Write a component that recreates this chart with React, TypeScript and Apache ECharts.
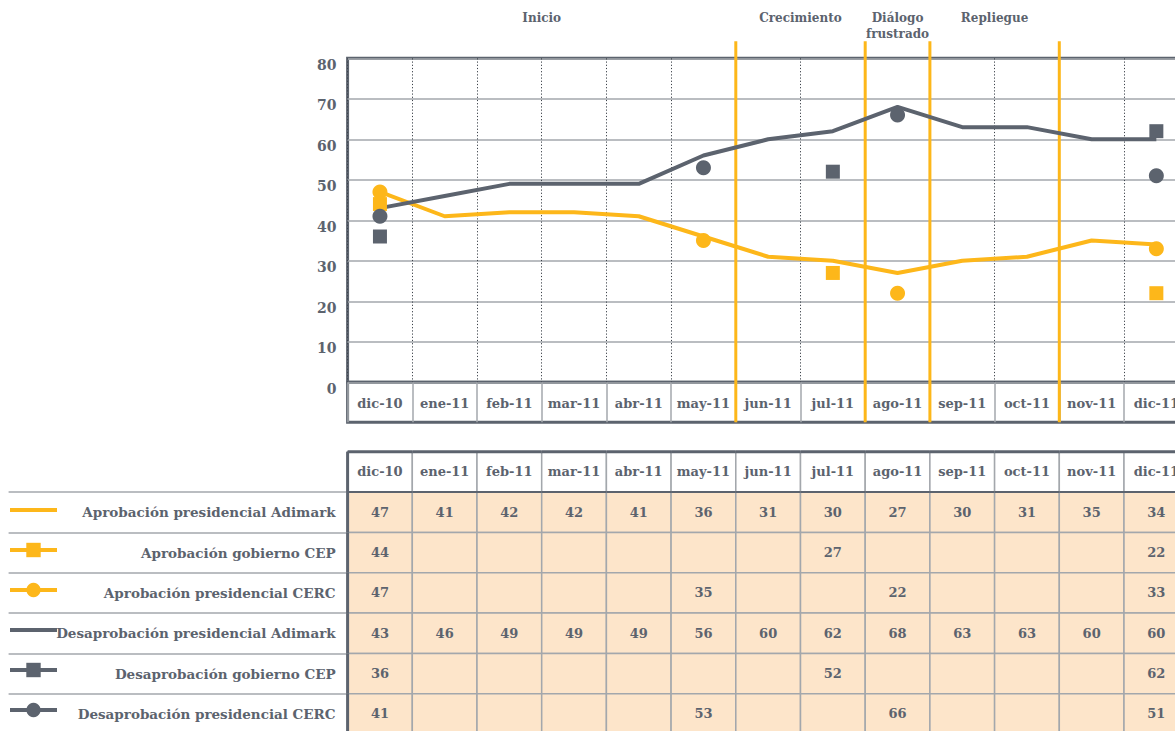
import React, { useEffect, useRef } from "react";
import * as echarts from "echarts";

const categories = ["dic-10", "ene-11", "feb-11", "mar-11", "abr-11", "may-11", "jun-11", "jul-11", "ago-11", "sep-11", "oct-11", "nov-11", "dic-11"];

const seriesNames = [
  "Aprobación presidencial Adimark",
  "Aprobación gobierno CEP",
  "Aprobación presidencial CERC",
  "Desaprobación presidencial Adimark",
  "Desaprobación gobierno CEP",
  "Desaprobación presidencial CERC",
];

const aprobAdimark = [47, 41, 42, 42, 41, 36, 31, 30, 27, 30, 31, 35, 34];
const aprobCEP = [44, null, null, null, null, null, null, 27, null, null, null, null, 22];
const aprobCERC = [47, null, null, null, null, 35, null, null, 22, null, null, null, 33];
const desAdimark = [43, 46, 49, 49, 49, 56, 60, 62, 68, 63, 63, 60, 60];
const desCEP = [36, null, null, null, null, null, null, 52, null, null, null, null, 62];
const desCERC = [41, null, null, null, null, 53, null, null, 66, null, null, null, 51];

const phaseNames = ["Inicio", "Crecimiento", "Diálogo\nfrustrado", "Repliegue", ""];
const phaseStart = [0, 6, 8, 9, 11];
const phaseEnd = [5, 7, 8, 10, 12];

const yMin = 0;
const yMax = 80;
const yInterval = 10;

const ORANGE = "#FDB71A";
const GRAY = "#5C636E";
const LIGHT = "#A3A7AC";
const PEACH = "#FDE5CA";
const FONT = '"DejaVu Serif", serif';

export default function App() {
  const ref = useRef<HTMLDivElement>(null);
  useEffect(() => {
    if (!ref.current) return;
    const chart = echarts.init(ref.current, undefined, { renderer: "svg" });
    const tableRows = [aprobAdimark, aprobCEP, aprobCERC, desAdimark, desCEP, desCERC];
    const colors = [ORANGE, ORANGE, ORANGE, GRAY, GRAY, GRAY];
    const symbols = ["none", "rect", "circle", "none", "rect", "circle"];
    const dataSeries = [aprobAdimark, aprobCEP, aprobCERC, desAdimark, desCEP, desCERC];

    const gridLeft = 347.6;
    const gridW = 64.7 * categories.length;

    const tableData: number[][] = [];
    for (let r = 0; r <= seriesNames.length; r++) {
      for (let c = 0; c < categories.length; c++) tableData.push([c, r]);
    }

    const option: any = {
      animation: false,
      backgroundColor: "#fff",
      textStyle: { fontFamily: FONT },
      grid: [
        { left: gridLeft, top: 58.3, width: gridW, height: 324, show: true, borderColor: GRAY, borderWidth: 3 },
        { left: gridLeft, top: 382.3, width: gridW, height: 40, show: true, borderColor: GRAY, borderWidth: 3 },
        { left: gridLeft, top: 451.7, width: gridW, height: 40.35 * 7 },
      ],
      xAxis: [
        {
          type: "category", gridIndex: 0, data: categories, boundaryGap: true,
          axisLine: { show: false }, axisTick: { show: false }, axisLabel: { show: false },
          splitLine: { show: true, interval: 0, lineStyle: { color: "#3d434b", type: [1.2, 2], width: 1 } },
        },
        {
          type: "category", gridIndex: 1, data: categories, boundaryGap: true, position: "bottom",
          axisLine: { show: false }, axisTick: { show: false },
          axisLabel: { interval: 0, inside: true, margin: 12, color: GRAY, fontWeight: "bold", fontSize: 13, fontFamily: FONT },
          splitLine: { show: true, interval: 0, lineStyle: { color: LIGHT, width: 1.5 } },
        },
        {
          type: "category", gridIndex: 2, data: categories, boundaryGap: true,
          axisLine: { show: false }, axisTick: { show: false }, axisLabel: { show: false }, splitLine: { show: false },
        },
      ],
      yAxis: [
        {
          type: "value", gridIndex: 0, min: yMin, max: yMax, interval: yInterval,
          axisLine: { show: false }, axisTick: { show: false },
          axisLabel: { margin: 11, color: GRAY, fontWeight: "bold", fontSize: 14, fontFamily: FONT, verticalAlign: "top", lineHeight: 13 },
          splitLine: { show: true, lineStyle: { color: LIGHT, width: 1.5 } },
        },
        { type: "value", gridIndex: 1, show: false, min: 0, max: 1 },
        {
          type: "category", gridIndex: 2, inverse: true, data: ["", ...seriesNames], boundaryGap: true,
          axisLine: { show: false },
          axisTick: { show: true, length: 339, lineStyle: { color: LIGHT, width: 1.5 }, interval: (i: number) => i !== 0 },
          axisLabel: { interval: 0, margin: 12, color: GRAY, fontWeight: "bold", fontSize: 13.5, fontFamily: FONT },
          splitLine: { show: false },
        },
      ],
      legend: {
        orient: "vertical", left: 8, top: 501, padding: 0, itemWidth: 47, itemHeight: 18, itemGap: 23.8,
        lineStyle: { width: 4 },
        data: seriesNames.map((n, i) => (symbols[i] === "none" ? { name: n, itemStyle: { opacity: 0 } } : { name: n })),
        formatter: () => "", selectedMode: false,
      },
      series: [
        {
          type: "custom", name: "fases", xAxisIndex: 0, yAxisIndex: 0, z: 1,
          data: phaseNames.map((_, i) => [phaseStart[i], phaseEnd[i]]),
          renderItem: (params: any, api: any) => {
            const s = api.value(0);
            const e = api.value(1);
            const bw = api.size([1, 0])[0];
            const x0 = api.coord([s, 0])[0] - bw / 2;
            const x1 = api.coord([e, 0])[0] + bw / 2;
            const cs = params.coordSys;
            const children: any[] = [
              {
                type: "text",
                style: {
                  text: phaseNames[params.dataIndex], x: (x0 + x1) / 2, y: cs.y - 48,
                  align: "center", verticalAlign: "top", fontSize: 12, fontWeight: "bold",
                  fontFamily: FONT, fill: GRAY, lineHeight: 16,
                },
              },
            ];
            if (params.dataIndex < phaseNames.length - 1) {
              children.push({
                type: "line", z2: 20,
                shape: { x1: x1, y1: cs.y - 17, x2: x1, y2: cs.y + cs.height + 40 },
                style: { stroke: ORANGE, lineWidth: 3 },
              });
            }
            return { type: "group", children };
          },
        },
        ...seriesNames.map((name, i) => ({
          type: "line", name, xAxisIndex: 0, yAxisIndex: 0, z: 3,
          data: dataSeries[i],
          symbol: symbols[i], symbolSize: symbols[i] === "rect" ? 14 : 15, showSymbol: symbols[i] !== "none",
          showAllSymbol: true, connectNulls: false,
          itemStyle: { color: colors[i] },
          lineStyle: { color: colors[i], width: 4 },
        })),
        {
          type: "custom", name: "tabla", xAxisIndex: 2, yAxisIndex: 2, z: 2,
          data: tableData,
          renderItem: (params: any, api: any) => {
            const c = api.value(0);
            const r = api.value(1);
            const pt = api.coord([c, r]);
            const sz = api.size([1, 1]);
            const w = sz[0];
            const h = sz[1];
            const header = r === 0;
            let txt = "";
            if (header) txt = categories[c];
            else {
              const v = tableRows[r - 1][c];
              txt = v === null || v === undefined ? "" : String(v);
            }
            const x0 = pt[0] - w / 2;
            const y0 = pt[1] - h / 2;
            const children: any[] = [
              {
                type: "rect", shape: { x: x0, y: y0, width: w, height: h },
                style: { fill: header ? "#fff" : PEACH, stroke: LIGHT, lineWidth: 1.5 },
              },
              {
                type: "text", z2: 5,
                style: {
                  text: txt, x: pt[0], y: pt[1], align: "center", verticalAlign: "middle",
                  fontSize: 13, fontWeight: "bold", fontFamily: FONT, fill: GRAY,
                },
              },
            ];
            if (header) {
              children.push({ type: "line", z2: 10, shape: { x1: x0, y1: y0, x2: x0 + w, y2: y0 }, style: { stroke: GRAY, lineWidth: 3 } });
              children.push({ type: "line", z2: 10, shape: { x1: x0, y1: y0 + h, x2: x0 + w, y2: y0 + h }, style: { stroke: GRAY, lineWidth: 2 } });
            }
            if (c === 0) {
              children.push({ type: "line", z2: 10, shape: { x1: x0, y1: y0, x2: x0, y2: y0 + h }, style: { stroke: GRAY, lineWidth: 3 } });
            }
            return { type: "group", children };
          },
        },
      ],
    };
    chart.setOption(option);
    return () => chart.dispose();
  }, []);

  return (
    <div style={{ position: "fixed", left: 0, top: 0, width: 1175, height: 731, overflow: "hidden", background: "#fff" }}>
      <div ref={ref} style={{ width: 1200, height: 740 }} />
    </div>
  );
}
